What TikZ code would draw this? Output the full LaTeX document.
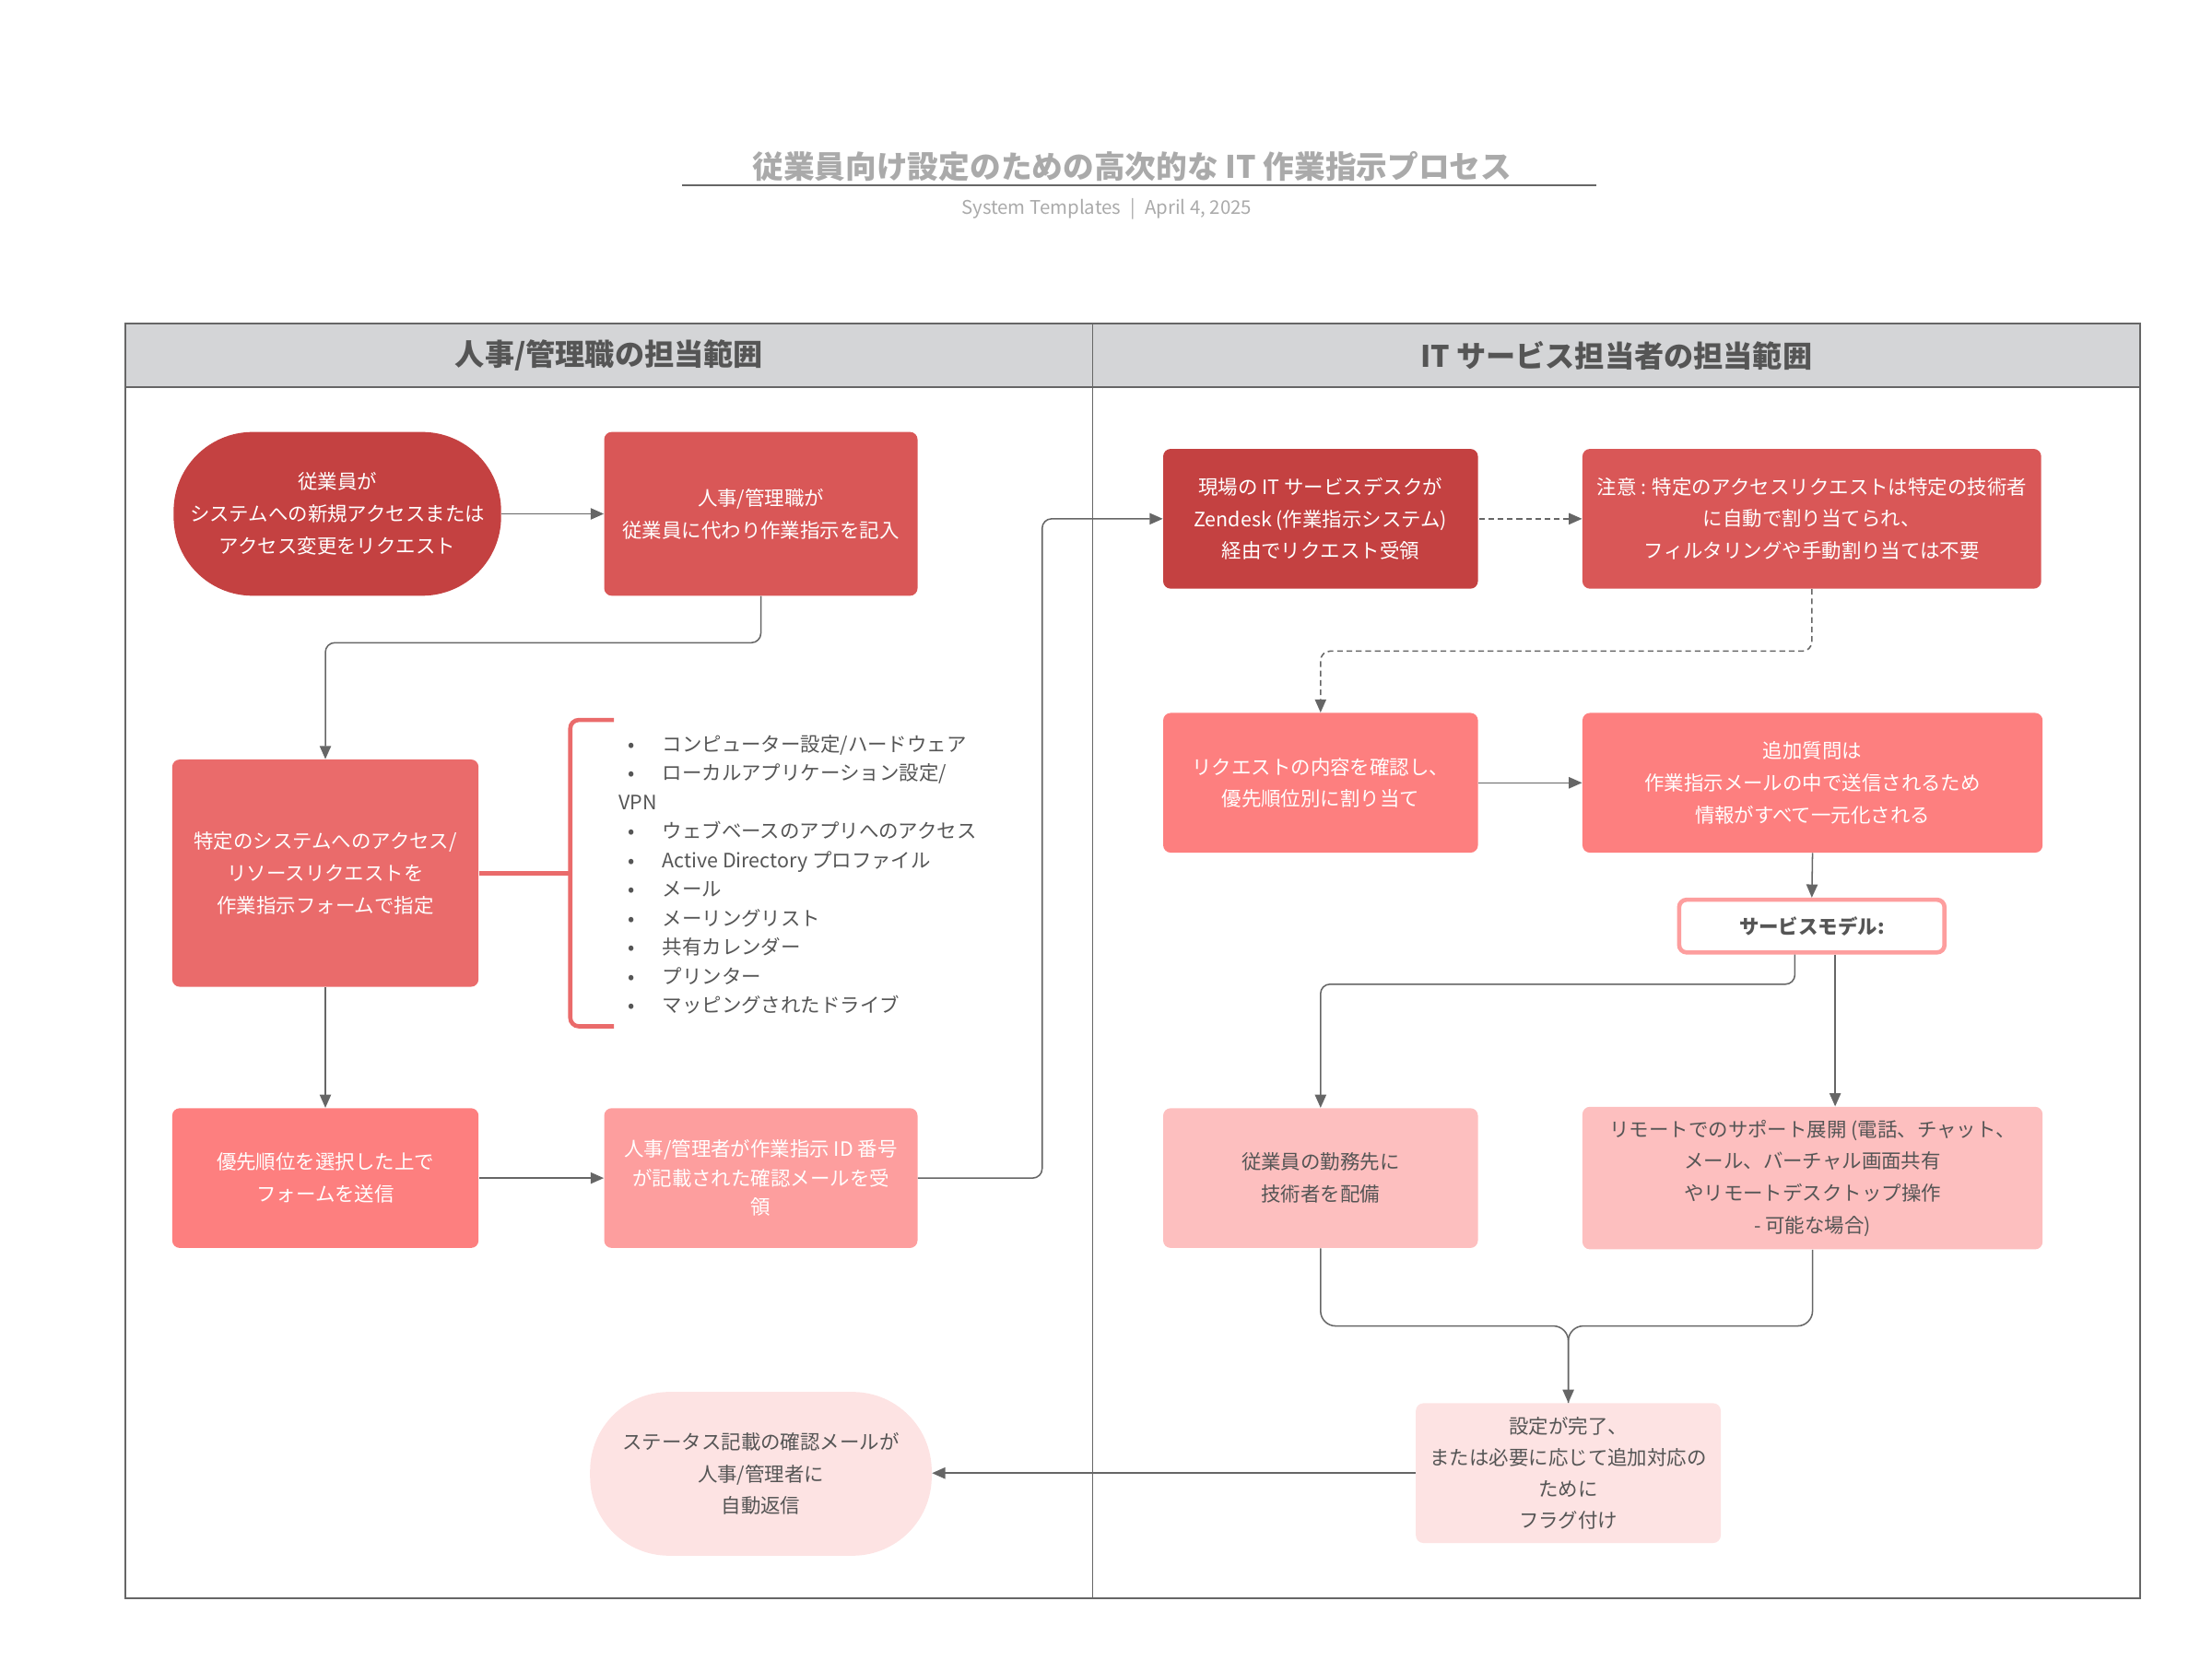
\documentclass[tikz,border=0pt]{standalone}
\usepackage{fontspec}
\setmainfont{Noto Sans CJK JP}
\usetikzlibrary{arrows.meta}

\definecolor{mDeepRed}{HTML}{C44141}
\definecolor{mRed}{HTML}{D95757}
\definecolor{mCoral}{HTML}{EA6B6B}
\definecolor{mSalmon}{HTML}{FD7F7F}
\definecolor{mPink}{HTML}{FD9E9E}
\definecolor{mRose}{HTML}{FDBFBF}
\definecolor{mBlush}{HTML}{FDE3E3}
\definecolor{mHeader}{HTML}{D4D5D7}
\definecolor{mLine}{HTML}{666666}
\definecolor{mText}{HTML}{555555}
\definecolor{mTitle}{HTML}{AAAAAA}

\newcommand\itm[1]{\hbox to 23.25pt{\hspace{5pt}•\hfil}#1}

\begin{document}
\begin{tikzpicture}
  [x=0.75pt,y=-0.75pt,
  >={Triangle[length=7pt,width=6pt]},
  txt/.style={font=\fontsize{10.5}{17}\selectfont,align=center},
  box/.style={rectangle,rounded corners=4pt,inner sep=0pt,txt,text=white},
  lbox/.style={box,text=mText},
  oval/.style={box,rounded corners=42pt},
  wbox/.style={box,minimum width=167.25pt,minimum height=74.25pt},
  xbox/.style={box,minimum width=244.5pt,minimum height=74.25pt},
  pre/.style={<-,draw=mLine,line width=0.75pt},
  post/.style={->,draw=mLine,line width=0.75pt},
  dpost/.style={post,dash pattern=on 3pt off 2pt},
  brk/.style={draw=mCoral,line width=2.25pt,rounded corners=4.5pt},
  lane/.style={draw=mLine,line width=0.9pt}]

  \useasboundingbox (0,0) rectangle (1567,1183.8);

  % title
  \node[font=\fontsize{16.5}{20}\selectfont\bfseries,text=mTitle] (ttl) at (802,118)
    {従業員向け設定のための高次的な IT 作業指示プロセス};
  \draw[mLine,line width=1.1pt] (483,131) -- (1131,131);
  \node[font=\fontsize{10}{12}\selectfont,text=mTitle] (sub) at (784,148)
    {System Templates \;|\; April 4, 2025};

  % lanes
  \fill[mHeader] (89,229) rectangle (1516,274);
  \draw[lane] (89,229) rectangle (1516,1132);
  \draw[lane] (89,274) -- (1516,274);
  \draw[lane] (774,229) -- (774,1132);
  \node[font=\fontsize{15.75}{18}\selectfont\bfseries,text=mText] (lhdr) at (431.5,252)
    {人事/管理職の担当範囲};
  \node[font=\fontsize{15.75}{18}\selectfont\bfseries,text=mText] (rhdr) at (1145,252)
    {IT サービス担当者の担当範囲};

  % left lane
  \node[oval,fill=mDeepRed,minimum width=174pt,minimum height=87pt] (req) at (239,364)
    {従業員が\\システムへの新規アクセスまたは\\アクセス変更をリクエスト};

  \node[box,fill=mRed,minimum width=166.5pt,minimum height=87pt] (hr) at (539,364)
    {人事/管理職が\\従業員に代わり作業指示を記入}
  edge[pre] (req);

  \node[box,fill=mCoral,minimum width=162.75pt,minimum height=120.75pt] (spec) at (230.5,618.5)
    {特定のシステムへのアクセス/\\リソースリクエストを\\作業指示フォームで指定};

  \node[box,fill=mSalmon,minimum width=162.75pt,minimum height=74.25pt] (sub) at (230.5,834.5)
    {優先順位を選択した上で\\フォームを送信}
  edge[pre] (spec);

  \node[box,fill=mPink,minimum width=166.5pt,minimum height=74.25pt,
    font=\fontsize{10.5}{15.5}\selectfont] (cfm) at (539,834.5)
    {人事/管理者が作業指示 ID 番号\\が記載された確認メールを受\\領}
  edge[pre] (sub);

  \node[oval,text=mText,fill=mBlush,minimum width=181.5pt,minimum height=87pt] (reply) at (539,1044)
    {ステータス記載の確認メールが\\人事/管理者に\\自動返信};

  % list
  \node[anchor=west,inner sep=0pt,align=left,text=mText,
    font=\fontsize{10.5}{15.4}\selectfont] (lst) at (438,619.5)
    {\itm{コンピューター設定/ハードウェア}\\
     \itm{ローカルアプリケーション設定/}\\
     VPN\\
     \itm{ウェブベースのアプリへのアクセス}\\
     \itm{Active Directory プロファイル}\\
     \itm{メール}\\
     \itm{メーリングリスト}\\
     \itm{共有カレンダー}\\
     \itm{プリンター}\\
     \itm{マッピングされたドライブ}};
  \coordinate (bmid) at (404,618.5);
  \draw[brk] (435,510) -- (404,510) -- (404,727) -- (435,727);
  \draw[brk,rounded corners=0pt] (spec.east) -- (bmid);

  % right lane
  \node[wbox,fill=mDeepRed] (desk) at (935.5,367.5)
    {現場の IT サービスデスクが\\Zendesk (作業指示システム)\\経由でリクエスト受領};

  \node[box,fill=mRed,minimum width=243.75pt,minimum height=74.25pt] (note) at (1283.5,367.5)
    {注意 : 特定のアクセスリクエストは特定の技術者\\に自動で割り当てられ、\\フィルタリングや手動割り当ては不要}
  edge[dpost,<-] (desk);

  \node[wbox,fill=mSalmon] (rev) at (935.5,554.5)
    {リクエストの内容を確認し、\\優先順位別に割り当て};

  \node[xbox,fill=mSalmon] (fup) at (1284,554.5)
    {追加質問は\\作業指示メールの中で送信されるため\\情報がすべて一元化される}
  edge[pre] (rev);

  \node[box,fill=white,draw=mPink,line width=2.25pt,text=mText,font=\fontsize{10.5}{12}\selectfont\bfseries,
    minimum width=141pt,minimum height=28pt] (svc) at (1283.5,656)
    {サービスモデル:};

  \node[wbox,fill=mRose,text=mText] (disp) at (935.5,834.5)
    {従業員の勤務先に\\技術者を配備};

  \node[xbox,fill=mRose,text=mText,minimum height=75.75pt] (rem) at (1284,834.5)
    {リモートでのサポート展開 (電話、チャット、\\メール、バーチャル画面共有\\やリモートデスクトップ操作\\- 可能な場合)};

  \node[box,fill=mBlush,text=mText,minimum width=162pt,minimum height=74.25pt,
    font=\fontsize{10.5}{16.7}\selectfont] (done) at (1111,1043.5)
    {設定が完了、\\または必要に応じて追加対応の\\ために\\フラグ付け};

  % connectors
  \draw[post,rounded corners=5pt] (hr.south) -- ++(0,33) -| (spec.north);
  \draw[post,rounded corners=5pt] (cfm.east) -- ++(88,0) |- (desk.west);
  \draw[dpost,rounded corners=5pt] (note.south) -- ++(0,44) -| (rev.north);
  \draw[post] (fup.south) -- (svc.north);
  \draw[post,rounded corners=5pt] ([xshift=-9pt]svc.south) -- ++(0,21) -| (disp.north);
  \draw[post] ([xshift=12.4pt]svc.south) -- ([xshift=12.4pt]svc.south |- rem.north);
  \draw[draw=mLine,line width=0.75pt,rounded corners=8pt] (disp.south) -- ++(0,55) -| (done.north);
  \draw[post,rounded corners=8pt] (rem.south) -- ++(0,54) -| (done.north);
  \draw[post] (done.west) -- (done.west -| reply.east);
\end{tikzpicture}
\end{document}
